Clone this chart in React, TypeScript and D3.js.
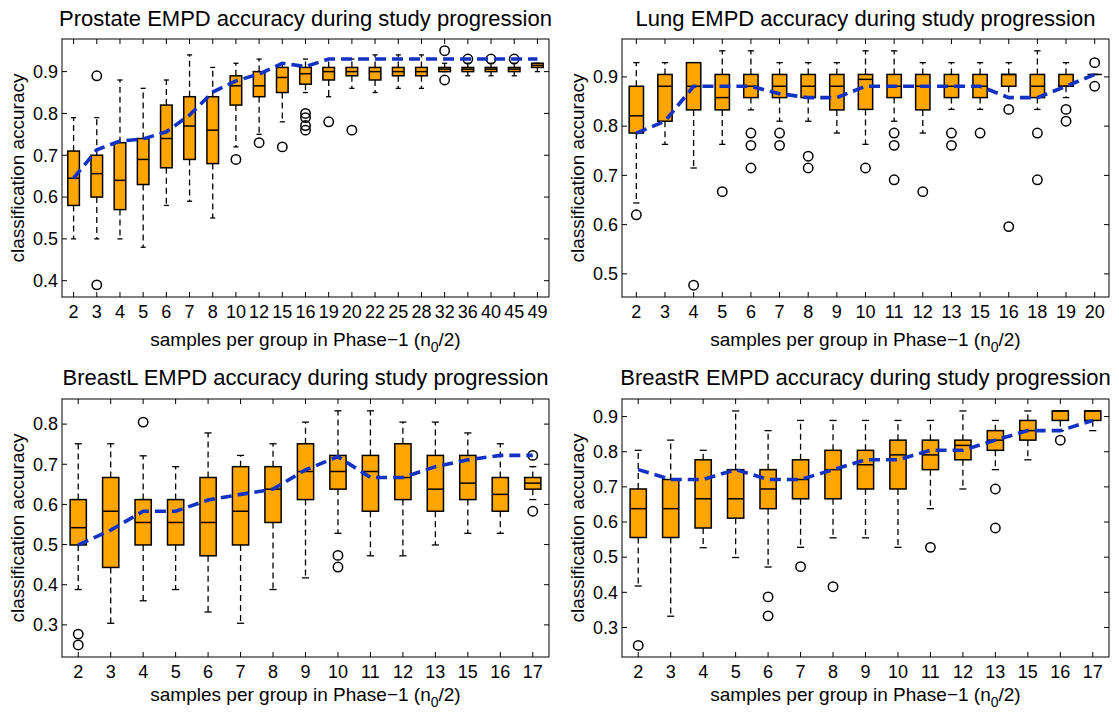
import React from 'react';
import * as d3 from 'd3';

// ---------- Data (box stats: [lowerWhisker, q1, median, q3, upperWhisker]) ----------
const prostateCats = ["2","3","4","5","6","7","8","10","12","15","16","19","20","22","25","28","32","36","40","45","49"];
const prostateBoxes = [
  [0.50,0.58,0.645,0.71,0.79],[0.50,0.60,0.656,0.70,0.79],[0.50,0.57,0.64,0.73,0.88],
  [0.48,0.63,0.69,0.74,0.86],[0.58,0.67,0.74,0.82,0.88],[0.59,0.69,0.77,0.84,0.94],
  [0.55,0.68,0.76,0.84,0.91],[0.72,0.82,0.866,0.89,0.92],[0.75,0.84,0.866,0.90,0.93],
  [0.78,0.85,0.886,0.91,0.92],[0.85,0.87,0.895,0.91,0.93],[0.84,0.88,0.90,0.91,0.93],
  [0.86,0.89,0.90,0.91,0.93],[0.85,0.88,0.90,0.91,0.94],[0.86,0.89,0.90,0.91,0.94],
  [0.86,0.89,0.90,0.91,0.94],[0.90,0.90,0.906,0.91,0.92],[0.89,0.90,0.906,0.91,0.92],
  [0.89,0.90,0.906,0.91,0.92],[0.89,0.90,0.906,0.91,0.92],[0.90,0.91,0.915,0.92,0.92]
];
const prostateOutliers = [[],[0.89,0.39],[],[],[],[],[],[0.69],[0.73],[0.72],[0.80,0.79,0.771,0.76],[0.78],[0.76],[],[],[],[0.95,0.88],[0.93],[0.93],[0.93],[]];
const prostateTrend = [0.645,0.713,0.734,0.739,0.756,0.796,0.851,0.878,0.894,0.92,0.912,0.93,0.93,0.93,0.93,0.93,0.93,0.93,0.93,0.93,0.93];
const prostateYTicks = [0.4,0.5,0.6,0.7,0.8,0.9];

const lungCats = ["2","3","4","5","6","7","8","9","10","11","12","13","15","16","18","19","20"];
const lungBoxes = [
  [0.644,0.786,0.821,0.881,0.929],[0.763,0.810,0.881,0.905,0.929],[0.715,0.833,0.881,0.929,0.929],
  [0.763,0.833,0.858,0.905,0.953],[0.833,0.858,0.881,0.905,0.953],[0.810,0.858,0.881,0.905,0.929],
  [0.810,0.858,0.881,0.905,0.929],[0.786,0.833,0.881,0.905,0.929],[0.763,0.834,0.895,0.905,0.953],
  [0.810,0.858,0.881,0.905,0.953],[0.786,0.833,0.881,0.905,0.929],[0.834,0.858,0.881,0.905,0.929],
  [0.834,0.858,0.881,0.905,0.929],[0.858,0.881,0.905,0.905,0.929],[0.834,0.858,0.881,0.905,0.953],
  [0.858,0.881,0.881,0.905,0.929],[0.905,0.905,0.905,0.905,0.905]
];
const lungOutliers = [[0.620],[],[0.477],[0.667],[0.786,0.761,0.715],[0.786,0.761],[0.739,0.715],[],[0.715],[0.786,0.761,0.691],[0.667],[0.786,0.761],[0.786],[0.834,0.596],[0.786,0.691],[0.834,0.810],[0.929,0.881]];
const lungTrend = [0.786,0.810,0.881,0.881,0.881,0.866,0.858,0.858,0.881,0.881,0.881,0.881,0.881,0.858,0.858,0.881,0.905];
const lungYTicks = [0.5,0.6,0.7,0.8,0.9];

const breastLCats = ["2","3","4","5","6","7","8","9","10","11","12","13","15","16","17"];
const breastLBoxes = [
  [0.388,0.499,0.542,0.612,0.751],[0.304,0.443,0.583,0.667,0.751],[0.360,0.499,0.555,0.612,0.721],
  [0.388,0.499,0.555,0.612,0.694],[0.332,0.472,0.555,0.667,0.778],[0.304,0.499,0.583,0.694,0.722],
  [0.388,0.555,0.638,0.694,0.751],[0.417,0.612,0.682,0.751,0.805],[0.528,0.638,0.682,0.722,0.833],
  [0.472,0.583,0.682,0.722,0.833],[0.472,0.612,0.667,0.751,0.805],[0.499,0.583,0.638,0.722,0.805],
  [0.528,0.612,0.653,0.722,0.778],[0.528,0.583,0.625,0.667,0.751],[0.612,0.638,0.653,0.667,0.694]
];
const breastLOutliers = [[0.277,0.250],[],[0.805],[],[],[],[],[],[0.473,0.444],[],[],[],[],[],[0.722,0.583]];
const breastLTrend = [0.499,0.536,0.583,0.583,0.611,0.625,0.638,0.686,0.719,0.667,0.667,0.694,0.711,0.722,0.722];
const breastLYTicks = [0.3,0.4,0.5,0.6,0.7,0.8];

const breastRCats = ["2","3","4","5","6","7","8","9","10","11","12","13","15","16","17"];
const breastRBoxes = [
  [0.418,0.556,0.638,0.694,0.804],[0.332,0.556,0.638,0.721,0.833],[0.527,0.583,0.666,0.777,0.804],
  [0.499,0.611,0.666,0.749,0.916],[0.472,0.638,0.694,0.749,0.860],[0.528,0.666,0.721,0.777,0.889],
  [0.555,0.666,0.749,0.804,0.889],[0.555,0.694,0.763,0.804,0.889],[0.528,0.694,0.791,0.833,0.889],
  [0.638,0.749,0.791,0.833,0.889],[0.694,0.777,0.818,0.833,0.916],[0.749,0.804,0.833,0.860,0.889],
  [0.777,0.833,0.860,0.889,0.916],[0.860,0.889,0.916,0.916,0.916],[0.860,0.889,0.916,0.916,0.916]
];
const breastROutliers = [[0.249],[],[],[],[0.387,0.333],[0.473],[0.416],[],[],[0.528],[],[0.694,0.583],[],[0.833],[]];
const breastRTrend = [0.749,0.721,0.721,0.749,0.721,0.721,0.749,0.777,0.777,0.804,0.804,0.833,0.860,0.860,0.889];
const breastRYTicks = [0.3,0.4,0.5,0.6,0.7,0.8,0.9];

const FONT = "'Liberation Sans', Arial, Helvetica, sans-serif";
const ORANGE = "#FFA500";
const BLUE = "#1232c4";

type PanelProps = {
  title: string; cats: string[]; boxes: number[][]; outliers: number[][]; trend: number[];
  yTicks: number[]; yDomain: [number, number];
  x0: number; y0: number; w: number; h: number; titleY: number; xLabelY: number;
};

function Panel(p: PanelProps) {
  const x = d3.scalePoint<string>().domain(p.cats).range([p.x0, p.x0 + p.w]).padding(0.5);
  const y = d3.scaleLinear().domain(p.yDomain).range([p.y0 + p.h, p.y0]);
  const step = x.step();
  const bw = step * 0.5;
  const cw = step * 0.22;
  const tl = 5;
  const line = d3.line<number>().x((_, i) => x(p.cats[i]) as number).y(d => y(d));
  const cx = p.x0 + p.w / 2;
  const cy = p.y0 + p.h / 2;
  return (
    <g>
      <text x={cx} y={p.titleY} textAnchor="middle" fontSize={22} fontFamily={FONT} fill="#000">{p.title}</text>
      <rect x={p.x0} y={p.y0} width={p.w} height={p.h} fill="none" stroke="#000" strokeWidth={1} />
      {p.cats.map(c => {
        const xx = x(c) as number;
        return (
          <g key={'xt' + c}>
            <line x1={xx} x2={xx} y1={p.y0 + p.h} y2={p.y0 + p.h - tl} stroke="#000" strokeWidth={1} />
            <line x1={xx} x2={xx} y1={p.y0} y2={p.y0 + tl} stroke="#000" strokeWidth={1} />
            <text x={xx} y={p.y0 + p.h + 21} textAnchor="middle" fontSize={18} fontFamily={FONT}>{c}</text>
          </g>
        );
      })}
      {p.yTicks.map(t => {
        const yy = y(t);
        return (
          <g key={'yt' + t}>
            <line x1={p.x0} x2={p.x0 + tl} y1={yy} y2={yy} stroke="#000" strokeWidth={1} />
            <line x1={p.x0 + p.w} x2={p.x0 + p.w - tl} y1={yy} y2={yy} stroke="#000" strokeWidth={1} />
            <text x={p.x0 - 4} y={yy} dy="0.35em" textAnchor="end" fontSize={18} fontFamily={FONT}>{t.toFixed(1)}</text>
          </g>
        );
      })}
      {p.boxes.map((b, i) => {
        const xx = x(p.cats[i]) as number;
        const [lo, q1, md, q3, hi] = b;
        return (
          <g key={'b' + i}>
            <line x1={xx} x2={xx} y1={y(q3)} y2={y(hi)} stroke="#000" strokeWidth={1.3} strokeDasharray="6,4" />
            <line x1={xx} x2={xx} y1={y(q1)} y2={y(lo)} stroke="#000" strokeWidth={1.3} strokeDasharray="6,4" />
            <line x1={xx - cw / 2} x2={xx + cw / 2} y1={y(hi)} y2={y(hi)} stroke="#000" strokeWidth={1.3} />
            <line x1={xx - cw / 2} x2={xx + cw / 2} y1={y(lo)} y2={y(lo)} stroke="#000" strokeWidth={1.3} />
            <rect x={xx - bw / 2} y={y(q3)} width={bw} height={Math.max(0, y(q1) - y(q3))} fill={ORANGE} stroke="#000" strokeWidth={1.5} />
            <line x1={xx - bw / 2} x2={xx + bw / 2} y1={y(md)} y2={y(md)} stroke="#000" strokeWidth={1.5} />
            {p.outliers[i].map((o, j) => (
              <circle key={j} cx={xx} cy={y(o)} r={4.7} fill="none" stroke="#000" strokeWidth={1.5} />
            ))}
          </g>
        );
      })}
      <path d={line(p.trend) || ''} fill="none" stroke={BLUE} strokeWidth={3.6} strokeDasharray="11,6" />
      <text transform={`translate(${p.x0 - 38},${cy}) rotate(-90)`} textAnchor="middle" fontSize={19} fontFamily={FONT}>classification accuracy</text>
      <text x={cx} y={p.xLabelY} textAnchor="middle" fontSize={19} fontFamily={FONT}>
        <tspan>samples per group in Phase−1 (n</tspan>
        <tspan dy={6} fontSize={14}>0</tspan>
        <tspan dy={-6}>/2)</tspan>
      </text>
    </g>
  );
}

export default function App() {
  return (
    <svg width={1119} height={715} style={{ position: 'absolute', left: 0, top: 0, background: '#fff' }}>
      <rect x={0} y={0} width={1119} height={715} fill="#fff" />
      <Panel title="Prostate EMPD accuracy during study progression" cats={prostateCats} boxes={prostateBoxes}
        outliers={prostateOutliers} trend={prostateTrend} yTicks={prostateYTicks} yDomain={[0.361, 0.978]}
        x0={62} y0={39} w={487} h={258} titleY={26} xLabelY={346} />
      <Panel title="Lung EMPD accuracy during study progression" cats={lungCats} boxes={lungBoxes}
        outliers={lungOutliers} trend={lungTrend} yTicks={lungYTicks} yDomain={[0.453, 0.977]}
        x0={622} y0={39} w={487} h={258} titleY={26} xLabelY={346} />
      <Panel title="BreastL EMPD accuracy during study progression" cats={breastLCats} boxes={breastLBoxes}
        outliers={breastLOutliers} trend={breastLTrend} yTicks={breastLYTicks} yDomain={[0.22, 0.8625]}
        x0={62} y0={399} w={487} h={258} titleY={385} xLabelY={701} />
      <Panel title="BreastR EMPD accuracy during study progression" cats={breastRCats} boxes={breastRBoxes}
        outliers={breastROutliers} trend={breastRTrend} yTicks={breastRYTicks} yDomain={[0.216, 0.95]}
        x0={622} y0={399} w={487} h={258} titleY={385} xLabelY={701} />
    </svg>
  );
}
